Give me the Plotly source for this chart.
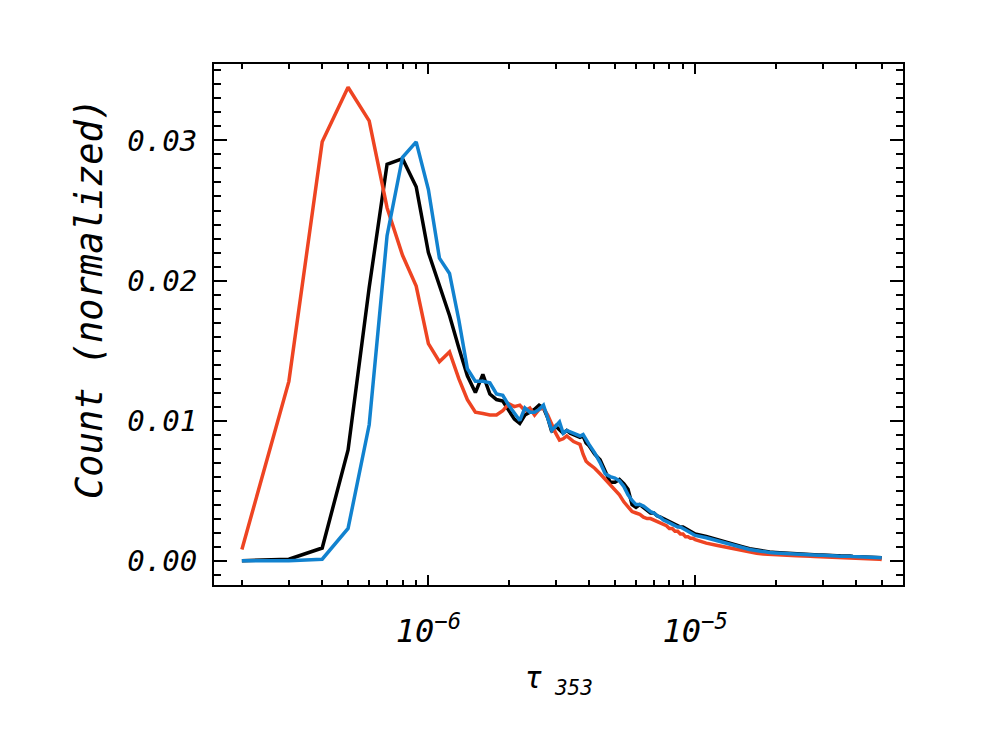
import plotly.graph_objects as go

# bin centres of tau_353 (in units of 1e-7)
tau_units = (list(range(2, 41)) + list(range(42, 101, 2)) + list(range(110, 501, 10)))
tau = [u * 1e-7 for u in tau_units]

red = [
    0.0008, 0.0128, 0.0299, 0.0338, 0.0314, 0.0252, 0.0218, 0.0196, 0.0155, 0.0142,
    0.0149, 0.0130, 0.0115, 0.0106, 0.0105, 0.0104, 0.0104, 0.0107, 0.0112, 0.0110,
    0.0111, 0.0107, 0.0109, 0.0104, 0.0108, 0.0109, 0.0104, 0.0097, 0.0091, 0.0086,
    0.0087, 0.0089, 0.0087, 0.0085, 0.0084, 0.0083, 0.0076, 0.0071, 0.0069,
    # 4.2e-6 .. 1e-5
    0.0066, 0.0062, 0.0058, 0.0054, 0.0051, 0.0047, 0.0042, 0.0038, 0.0035, 0.0034,
    0.0033, 0.0031, 0.0030, 0.0030, 0.0029, 0.0028, 0.0027, 0.0026, 0.0025, 0.0023,
    0.0023, 0.0021, 0.0021, 0.0019, 0.0019, 0.0017, 0.0017, 0.0016, 0.0016, 0.0015,
    # 1.1e-5 .. 5e-5
    0.00125, 0.00110, 0.00096, 0.00082, 0.00071, 0.00058, 0.00053, 0.00047, 0.00046, 0.00042,
    0.00041, 0.00038, 0.00037, 0.00034, 0.00035, 0.00031, 0.00032, 0.00029, 0.00028, 0.00029,
    0.00026, 0.00025, 0.00026, 0.00023, 0.00022, 0.00023, 0.00020, 0.00019, 0.00020, 0.00017,
    0.00016, 0.00017, 0.00014, 0.00013, 0.00014, 0.00011, 0.00012, 0.00010, 0.00009, 0.00008,
]

black = [
    0.0000, 0.0001, 0.0009, 0.0079, 0.0195, 0.0283, 0.0287, 0.0267, 0.0220, 0.0197,
    0.0175, 0.0152, 0.0132, 0.0120, 0.0133, 0.0119, 0.0115, 0.0114, 0.0107, 0.0101,
    0.0098, 0.0104, 0.0106, 0.0108, 0.0111, 0.0109, 0.0102, 0.0092, 0.0096, 0.0093,
    0.0091, 0.0093, 0.0091, 0.0090, 0.0089, 0.0088, 0.0089, 0.0084, 0.0082,
    0.0076, 0.0072, 0.0063, 0.0056, 0.0056, 0.0058, 0.0055, 0.0051, 0.0040, 0.0038,
    0.0040, 0.0038, 0.0036, 0.0034, 0.0034, 0.0032, 0.0031, 0.0030, 0.0029, 0.0028,
    0.0027, 0.0026, 0.0025, 0.0024, 0.0024, 0.0023, 0.0022, 0.0021, 0.0020, 0.0019,
    0.00172, 0.00150, 0.00132, 0.00114, 0.00099, 0.00085, 0.00075, 0.00068, 0.00061, 0.00058,
    0.00055, 0.00052, 0.00050, 0.00047, 0.00048, 0.00044, 0.00043, 0.00042, 0.00040, 0.00041,
    0.00038, 0.00037, 0.00038, 0.00035, 0.00034, 0.00035, 0.00032, 0.00033, 0.00030, 0.00029,
    0.00028, 0.00029, 0.00027, 0.00026, 0.00027, 0.00025, 0.00024, 0.00025, 0.00023, 0.00021,
]

blue = [
    0.0000, 0.0000, 0.0001, 0.0023, 0.0097, 0.0232, 0.0288, 0.0299, 0.0265, 0.0216,
    0.0205, 0.0172, 0.0137, 0.0128, 0.0128, 0.0127, 0.0119, 0.0118, 0.0111, 0.0105,
    0.0100, 0.0109, 0.0106, 0.0106, 0.0108, 0.0111, 0.0102, 0.0093, 0.0096, 0.0099,
    0.0091, 0.0093, 0.0092, 0.0091, 0.0090, 0.0089, 0.0090, 0.0086, 0.0083,
    0.0077, 0.0070, 0.0062, 0.0060, 0.0059, 0.0057, 0.0053, 0.0047, 0.0043, 0.0040,
    0.0040, 0.0039, 0.0037, 0.0035, 0.0034, 0.0032, 0.0031, 0.0029, 0.0028, 0.0027,
    0.0026, 0.0025, 0.0024, 0.0024, 0.0023, 0.0022, 0.0021, 0.0020, 0.0019, 0.0018,
    0.00163, 0.00142, 0.00125, 0.00108, 0.00094, 0.00080, 0.00070, 0.00064, 0.00058, 0.00055,
    0.00052, 0.00050, 0.00047, 0.00045, 0.00046, 0.00042, 0.00041, 0.00040, 0.00038, 0.00039,
    0.00036, 0.00035, 0.00036, 0.00033, 0.00032, 0.00033, 0.00030, 0.00031, 0.00029, 0.00028,
    0.00027, 0.00028, 0.00026, 0.00025, 0.00026, 0.00024, 0.00023, 0.00024, 0.00022, 0.00020,
]

x_major = [1e-6, 1e-5]
x_major_text = ["10<sup>\u22126</sup>", "10<sup>\u22125</sup>"]
x_minor = [m * 1e-7 for m in range(2, 10)] + [m * 1e-6 for m in range(2, 10)] + [m * 1e-5 for m in range(2, 7)]
y_major = [0.0, 0.01, 0.02, 0.03]

FONT = "DejaVu Sans Mono"

fig = go.Figure()
series = [("black", black, "#000000"), ("red", red, "#EE4422"), ("blue", blue, "#1182CF")]
for name, vals, col in series:
    fig.add_trace(go.Scatter(x=tau, y=vals, mode="lines", name=name,
                             line=dict(color=col, width=3.5), showlegend=False))

fig.update_layout(
    width=992, height=738,
    margin=dict(l=214, r=89, t=64, b=153),
    paper_bgcolor="white", plot_bgcolor="white",
    font=dict(family=FONT, color="black"),
)
fig.update_xaxes(
    type="log", range=[-6.8035, -4.2212],
    showgrid=False, zeroline=False,
    showline=True, linecolor="black", linewidth=2, mirror="ticks",
    ticks="inside", ticklen=10, tickwidth=2, tickcolor="black",
    tickvals=x_major, ticktext=x_major_text,
    tickfont=dict(family=FONT, size=32, style="italic"),
    ticklabelstandoff=17,
    minor=dict(tickvals=x_minor, ticks="inside", ticklen=5, tickwidth=2, tickcolor="black"),
    title=dict(text="\u03c4<sub> 353</sub>", font=dict(family=FONT, size=30, style="italic"), standoff=18),
)
fig.update_yaxes(
    range=[-0.00174, 0.03546],
    showgrid=False, zeroline=False,
    showline=True, linecolor="black", linewidth=2, mirror="ticks",
    ticks="inside", ticklen=13, tickwidth=2, tickcolor="black",
    tickvals=y_major, tickformat=".2f",
    tickfont=dict(family=FONT, size=29, style="italic"),
    ticklabelstandoff=9,
    minor=dict(dtick=0.001, ticks="inside", ticklen=7, tickwidth=2, tickcolor="black"),
)
fig.add_annotation(
    text="Count (normalized)", textangle=-90,
    xref="paper", yref="paper", x=-0.18, y=0.551,
    xanchor="center", yanchor="middle", showarrow=False,
    font=dict(family=FONT, size=37, style="italic", color="black"),
)

fig.write_html("out.html")
